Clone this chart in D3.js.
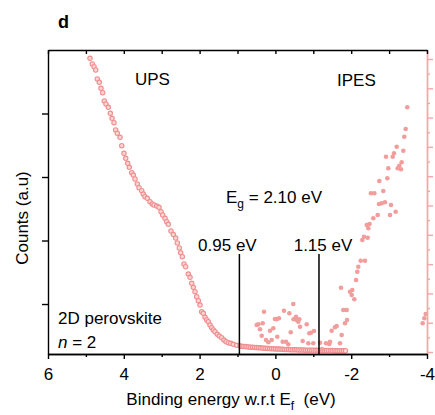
<!DOCTYPE html>
<html>
<head>
<meta charset="utf-8">
<script src="https://cdn.jsdelivr.net/npm/d3@7"></script>
<style>
  body { margin: 0; background: #fff; }
  svg { font-family: Arial, "Liberation Sans", sans-serif; }
  text { white-space: pre; }
</style>
</head>
<body>
<svg id="chart" width="435" height="415"></svg>
<script>
// UPS: [binding energy (eV), counts (a.u.), left axis]
const upsPoints = [
  [4.892, 4.869], [4.831, 4.780], [4.786, 4.737], [4.741, 4.685], [4.699, 4.543],
  [4.646, 4.491], [4.602, 4.397], [4.557, 4.328], [4.515, 4.197], [4.470, 4.150],
  [4.409, 4.098], [4.356, 4.003], [4.311, 3.924], [4.259, 3.855], [4.214, 3.740],
  [4.172, 3.688], [4.100, 3.625], [4.055, 3.493], [3.995, 3.373], [3.950, 3.294],
  [3.897, 3.216], [3.855, 3.153], [3.792, 3.068], [3.749, 3.031], [3.704, 2.969],
  [3.644, 2.890], [3.599, 2.831], [3.528, 2.784], [3.486, 2.732], [3.441, 2.690],
  [3.380, 2.665], [3.309, 2.611], [3.248, 2.575], [3.203, 2.559], [3.132, 2.543],
  [3.071, 2.523], [3.018, 2.454], [2.974, 2.402], [2.913, 2.350], [2.868, 2.296],
  [2.826, 2.255], [2.755, 2.150], [2.694, 2.094], [2.631, 2.039], [2.588, 1.961],
  [2.536, 1.882], [2.499, 1.808], [2.456, 1.745], [2.412, 1.630], [2.367, 1.587],
  [2.298, 1.472], [2.253, 1.420], [2.208, 1.326], [2.166, 1.263], [2.121, 1.194],
  [2.077, 1.115], [2.034, 1.052], [1.989, 0.984], [1.945, 0.879], [1.902, 0.854],
  [1.857, 0.791], [1.813, 0.748], [1.770, 0.721], [1.726, 0.669], [1.681, 0.627],
  [1.638, 0.591], [1.594, 0.564], [1.533, 0.523], [1.480, 0.496], [1.417, 0.469],
  [1.356, 0.433], [1.303, 0.406], [1.243, 0.391], [1.179, 0.381], [1.111, 0.365],
  [1.021, 0.350], [0.934, 0.339], [0.90, 0.336], [0.85, 0.333], [0.80, 0.330],
  [0.75, 0.327], [0.70, 0.324], [0.65, 0.321], [0.60, 0.318], [0.55, 0.316],
  [0.50, 0.314], [0.45, 0.312], [0.40, 0.310], [0.35, 0.307], [0.30, 0.305],
  [0.25, 0.303], [0.20, 0.301], [0.15, 0.299], [0.10, 0.297], [0.05, 0.295],
  [0.00, 0.293], [-0.05, 0.291], [-0.10, 0.290], [-0.15, 0.288], [-0.20, 0.287],
  [-0.25, 0.285], [-0.30, 0.284], [-0.35, 0.282], [-0.40, 0.281], [-0.45, 0.280],
  [-0.50, 0.279], [-0.55, 0.278], [-0.60, 0.277], [-0.65, 0.276], [-0.70, 0.275],
  [-0.75, 0.275], [-0.80, 0.274], [-0.85, 0.273], [-0.90, 0.273], [-0.95, 0.272],
  [-1.00, 0.272], [-1.05, 0.271], [-1.10, 0.271], [-1.15, 0.270], [-1.20, 0.270],
  [-1.25, 0.269], [-1.30, 0.269], [-1.35, 0.268], [-1.40, 0.268], [-1.45, 0.267],
  [-1.50, 0.267], [-1.55, 0.266], [-1.60, 0.266], [-1.65, 0.266], [-1.70, 0.265],
  [-1.75, 0.265], [-1.80, 0.265], [-1.85, 0.264]
];

// IPES: [binding energy (eV), counts (a.u.), right axis]
const ipesPoints = [
  [0.493, 0.922], [0.451, 0.945], [0.406, 0.775], [0.361, 0.556], [0.335, 0.980],
  [0.301, 1.375], [0.248, 0.410], [0.187, 0.331], [0.142, 0.727], [0.098, 0.410],
  [0.055, 0.809], [0.011, 1.126], [-0.034, 1.116], [-0.050, 0.522], [-0.095, 1.150],
  [-0.193, 0.352], [-0.227, 1.410], [-0.280, 0.352], [-0.340, 0.263], [-0.367, 1.321],
  [-0.404, 0.672], [-0.472, 1.638], [-0.480, 1.116], [-0.544, 1.205], [-0.562, 1.092],
  [-0.604, 1.034], [-0.630, 1.116], [-0.649, 0.863], [-0.720, 0.375], [-0.826, 0.945],
  [-0.868, 0.297], [-0.894, 0.638], [-0.939, 0.659], [-1.000, 0.297], [-1.018, 0.717],
  [-1.177, 0.317], [-1.230, 0.102], [-1.335, 0.297], [-1.422, 0.273], [-1.440, 0.352],
  [-1.485, 0.727], [-1.573, 0.843], [-1.617, 0.887], [-1.704, 0.297], [-1.731, 2.195],
  [-1.749, 0.580], [-1.792, 1.433], [-1.836, 0.980], [-1.881, 1.433], [-1.890, 1.092],
  [-1.968, 2.058], [-2.013, 1.945], [-2.029, 2.116], [-2.082, 1.799], [-2.127, 2.457],
  [-2.161, 2.741], [-2.187, 2.911], [-2.251, 3.116], [-2.293, 3.823], [-2.338, 3.935],
  [-2.364, 3.116], [-2.409, 4.334], [-2.435, 3.901], [-2.451, 4.222], [-2.483, 4.369],
  [-2.522, 5.416], [-2.583, 4.563], [-2.610, 5.416], [-2.699, 4.676], [-2.734, 5.051],
  [-2.742, 5.836], [-2.805, 5.075], [-2.847, 5.495], [-2.892, 5.109], [-2.918, 6.666],
  [-2.953, 5.928], [-2.979, 6.270], [-3.024, 4.676], [-3.050, 5.017], [-3.095, 6.666],
  [-3.129, 6.782], [-3.174, 4.788], [-3.201, 7.007], [-3.227, 6.270], [-3.269, 6.358],
  [-3.314, 6.235], [-3.332, 6.474], [-3.375, 6.870], [-3.401, 7.348], [-3.438, 7.611],
  [-3.480, 8.352], [-3.886, 0.980], [-3.929, 1.150], [-3.966, 1.297]
];

const xMajorTicks = [6, 4, 2, 0, -2, -4];
const xMinorTicks = [5, 3, 1, -1, -3];
const xAllTicks = [6, 5, 4, 3, 2, 1, 0, -1, -2, -3, -4];
const leftTicks = [1, 2, 3, 4];
const rightMajorTicks = [0, 1, 2, 3, 4, 5, 6, 7, 8, 9, 10];
const rightMinorTicks = [0.5, 1.5, 2.5, 3.5, 4.5, 5.5, 6.5, 7.5, 8.5, 9.5];

// onset markers: [energy at line, label]
const onsets = [
  [0.95, "0.95 eV"],
  [-1.15, "1.15 eV"]
];

const pink = "#f39c9c";
const pinkAxis = "#f7a6a6";

const svg = d3.select("#chart");
const plotLeft = 48, plotRight = 427, plotTop = 50, plotBottom = 354;

const x = d3.scaleLinear().domain([6, -4]).range([plotLeft, plotRight]);
const yL = d3.scaleLinear().domain([0.213, 5.0]).range([plotBottom, plotTop]);
const yR = d3.scaleLinear().domain([-0.068, 10.307]).range([plotBottom, plotTop]);

// data
svg.append("g").selectAll("circle")
  .data(upsPoints)
  .join("circle")
  .attr("cx", d => x(d[0]))
  .attr("cy", d => yL(d[1]))
  .attr("r", 2.2)
  .attr("fill", "#fcd6d6")
  .attr("stroke", "#f08e8e")
  .attr("stroke-width", 1.1);

svg.append("g").selectAll("circle")
  .data(ipesPoints)
  .join("circle")
  .attr("cx", d => x(d[0]))
  .attr("cy", d => yR(d[1]))
  .attr("r", 2.3)
  .attr("fill", pink);

// onset lines
onsets.forEach(([e, label], i) => {
  svg.append("line")
    .attr("x1", x(e)).attr("x2", x(e))
    .attr("y1", 254).attr("y2", plotBottom)
    .attr("stroke", "#000").attr("stroke-width", 1.5);
  svg.append("text")
    .attr("x", x(e) + (i == 0 ? -12 : 4))
    .attr("y", 251)
    .attr("text-anchor", "middle")
    .attr("font-size", 17)
    .text(label);
});

// axes
function styleAxis(g, color) {
  g.selectAll("path, line").attr("stroke", color).attr("stroke-width", 1.4);
  g.selectAll("text").attr("font-size", 17).attr("fill", "#000")
    .attr("font-family", 'Arial, "Liberation Sans", sans-serif');
}

svg.append("g")
  .attr("transform", `translate(${plotRight},0)`)
  .call(d3.axisRight(yR).tickValues(rightMinorTicks).tickSize(3).tickSizeOuter(0).tickFormat(""))
  .call(g => styleAxis(g, pinkAxis));
svg.append("g")
  .attr("transform", `translate(${plotRight},0)`)
  .call(d3.axisRight(yR).tickValues(rightMajorTicks).tickSize(6).tickSizeOuter(0).tickFormat(""))
  .call(g => styleAxis(g, pinkAxis));

svg.append("g")
  .attr("transform", `translate(0,${plotTop})`)
  .call(d3.axisTop(x).tickValues(xAllTicks).tickSize(-4).tickSizeOuter(0).tickFormat(""))
  .call(g => styleAxis(g, "#000"));

svg.append("g")
  .attr("transform", `translate(${plotLeft},0)`)
  .call(d3.axisLeft(yL).tickValues(leftTicks).tickSize(6).tickSizeOuter(0).tickFormat(""))
  .call(g => styleAxis(g, "#000"));

svg.append("g")
  .attr("transform", `translate(0,${plotBottom})`)
  .call(d3.axisBottom(x).tickValues(xMinorTicks).tickSize(3).tickSizeOuter(0).tickFormat(""))
  .call(g => styleAxis(g, "#000"));
svg.append("g")
  .attr("transform", `translate(0,${plotBottom})`)
  .call(d3.axisBottom(x).tickValues(xMajorTicks).tickSize(5).tickPadding(9).tickSizeOuter(0).tickFormat(d => String(d)))
  .call(g => styleAxis(g, "#000"));

// labels
svg.append("text").attr("x", 58).attr("y", 28)
  .attr("font-size", 18).attr("font-weight", "bold").text("d");

svg.append("text").attr("x", 135).attr("y", 85).attr("font-size", 17).text("UPS");
svg.append("text").attr("x", 337).attr("y", 86).attr("font-size", 17).text("IPES");

const eg = svg.append("text").attr("x", 274).attr("y", 203)
  .attr("text-anchor", "middle").attr("font-size", 17);
eg.append("tspan").text("E");
eg.append("tspan").attr("font-size", 12).attr("dy", 5).text("g");
eg.append("tspan").attr("dy", -5).text(" = 2.10 eV");

svg.append("text").attr("x", 58).attr("y", 324).attr("font-size", 17).text("2D perovskite");
const nl = svg.append("text").attr("x", 58).attr("y", 348).attr("font-size", 17);
nl.append("tspan").attr("font-style", "italic").text("n");
nl.append("tspan").text(" = 2");

const xt = svg.append("text").attr("x", 231).attr("y", 405)
  .attr("text-anchor", "middle").attr("font-size", 17);
xt.append("tspan").text("Binding energy w.r.t E");
xt.append("tspan").attr("font-size", 12).attr("dy", 5).text("f");
xt.append("tspan").attr("dy", -5).text("  (eV)");

svg.append("text")
  .attr("transform", "translate(28,218) rotate(-90)")
  .attr("text-anchor", "middle").attr("font-size", 17)
  .text("Counts (a.u)");
</script>
</body>
</html>
